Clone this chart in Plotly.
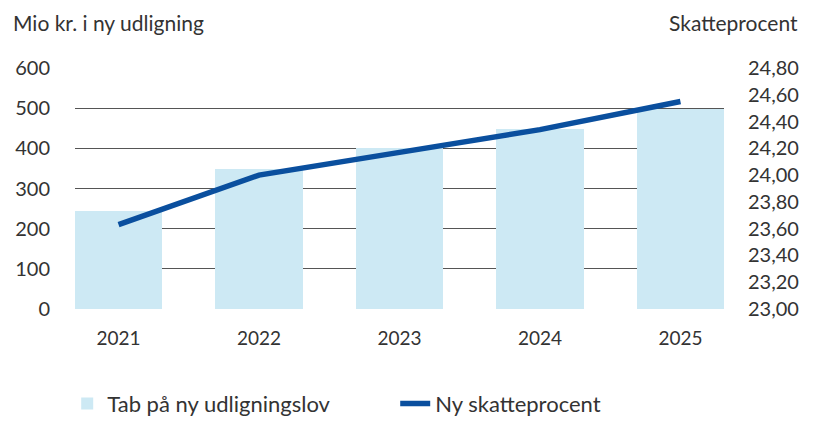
import plotly.graph_objects as go

years = ["2021", "2022", "2023", "2024", "2025"]
tab_values = [245, 349, 400, 448, 499]
skatteprocent = [23.63, 24.00, 24.17, 24.34, 24.55]

left_ticks = [0, 100, 200, 300, 400, 500, 600]
right_ticks = [23.0, 23.2, 23.4, 23.6, 23.8, 24.0, 24.2, 24.4, 24.6, 24.8]

FONT = "Lato"
TXT = "#333333"

fig = go.Figure()
fig.add_trace(go.Bar(
    x=years, y=tab_values, name="Tab på ny udligningslov",
    marker=dict(color="#cde9f4", line=dict(width=0)), width=0.62,
))
fig.add_trace(go.Scatter(
    x=years, y=skatteprocent, name="Ny skatteprocent", yaxis="y2",
    mode="lines", line=dict(color="#0a4f9e", width=5.5),
))

fig.update_layout(
    width=809, height=413,
    margin=dict(l=67, r=93, t=60, b=112, autoexpand=False),
    paper_bgcolor="white", plot_bgcolor="white",
    separators=",.",
    font=dict(family=FONT, size=19, color=TXT),
    showlegend=True,
    legend=dict(orientation="h", x=-0.012, y=-0.393, xanchor="left", yanchor="middle",
                font=dict(size=22, color=TXT), entrywidth=283, entrywidthmode="pixels",
                itemwidth=30, tracegroupgap=0, bgcolor="rgba(0,0,0,0)"),
    xaxis=dict(type="category", range=[-0.31, 4.31], showgrid=False, showline=False,
               ticks="", zeroline=False, ticklabelstandoff=16, automargin=False,
               tickfont=dict(size=19, color=TXT)),
    yaxis=dict(range=[0, 600], tickvals=left_ticks, showgrid=True,
               gridcolor="#555555", gridwidth=1, zeroline=False, showline=False,
               ticks="", ticklabelstandoff=24, automargin=False,
               tickfont=dict(size=20, color=TXT)),
    yaxis2=dict(range=[23.0, 24.8], tickvals=right_ticks, tickformat=".2f",
                overlaying="y", side="right", showgrid=False, zeroline=False,
                showline=False, ticks="", ticklabelstandoff=23, automargin=False,
                tickfont=dict(size=20, color=TXT)),
    bargap=0,
    annotations=[
        dict(text="Mio kr. i ny udligning", xref="paper", yref="paper", x=-0.099, y=1.19,
             xanchor="left", yanchor="middle", showarrow=False,
             font=dict(size=21, color=TXT)),
        dict(text="Skatteprocent", xref="paper", yref="paper", x=1.117, y=1.19,
             xanchor="right", yanchor="middle", showarrow=False,
             font=dict(size=21, color=TXT)),
    ],
)

fig.write_html("out.html")
